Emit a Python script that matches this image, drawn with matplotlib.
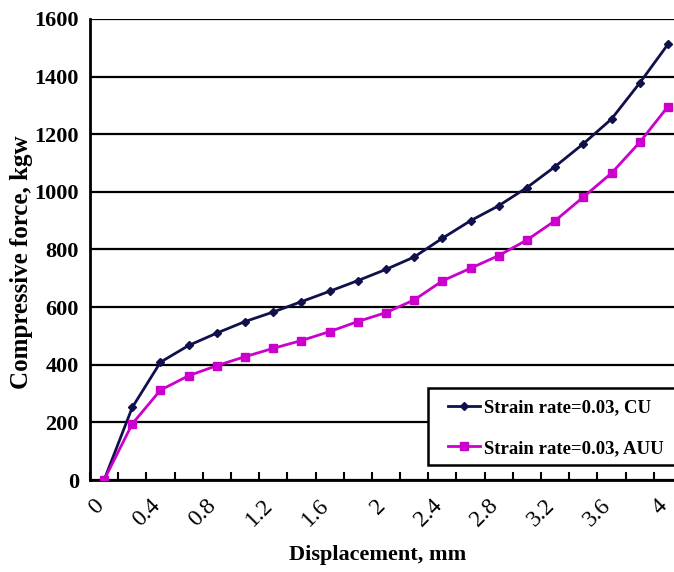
import numpy as np
import matplotlib
matplotlib.use("Agg")
import matplotlib.pyplot as plt
from matplotlib.patches import Rectangle
from matplotlib.ticker import FixedLocator

# displacement (mm) and compressive force (kgw)
disp = [0.0, 0.2, 0.4, 0.6, 0.8, 1.0, 1.2, 1.4, 1.6, 1.8, 2.0,
        2.2, 2.4, 2.6, 2.8, 3.0, 3.2, 3.4, 3.6, 3.8, 4.0]
force_cu = [0, 252, 409, 467, 510, 550, 583, 619, 655, 692, 731,
            774, 839, 900, 952, 1015, 1088, 1167, 1253, 1378, 1512]
force_auu = [0, 195, 312, 362, 397, 428, 457, 484, 515, 550, 581,
             625, 691, 735, 779, 833, 900, 982, 1065, 1172, 1296]
xtick_labels = ["0", "0.4", "0.8", "1.2", "1.6", "2", "2.4", "2.8", "3.2", "3.6", "4"]
yticks = [0, 200, 400, 600, 800, 1000, 1200, 1400, 1600]

plt.rcParams['font.family'] = ['Liberation Serif', 'DejaVu Serif']
plt.rcParams['font.weight'] = 'bold'
plt.rcParams['axes.labelweight'] = 'bold'

W, H = 674, 572
fig = plt.figure(figsize=(W/100, H/100), dpi=100)
# axes runs off the right edge like in the original
ax = fig.add_axes([90/W, 1 - 480/H, 592/W, 461/H])

ax.plot(disp, force_cu, color='#10104a', lw=2, marker='D', ms=4.5,
        label='Strain rate=0.03, CU', zorder=3)
ax.plot(disp, force_auu, color='#cc00cc', lw=2, marker='s', ms=6,
        label='Strain rate=0.03, AUU', zorder=3)

ax.set_xlim(-0.1, 4.1)
ax.set_ylim(0, 1600)
ax.set_yticks(yticks)
ax.yaxis.grid(True, color='black', lw=1.6)
ax.set_axisbelow(True)

# category labels, every other point, rotated 45
ax.set_xticks(disp[::2])
ax.set_xticklabels([])
for x, lab in zip(disp[::2], xtick_labels):
    ax.annotate(lab, xy=(x, 0), xycoords=('data', 'axes fraction'),
                xytext=(-8, -11), textcoords='offset points', fontsize=17,
                fontweight='normal', rotation=45, ha='right', va='top',
                rotation_mode='anchor', annotation_clip=False)
ax.xaxis.set_minor_locator(FixedLocator(np.arange(-0.1, 4.2, 0.2)))
ax.tick_params(axis='x', which='major', length=0)
ax.tick_params(axis='x', which='minor', length=6, width=1.5, direction='in')
ax.tick_params(axis='y', length=0, labelsize=16, pad=8)

for s in ['top', 'right']:
    ax.spines[s].set_visible(False)
for s in ['left', 'bottom']:
    ax.spines[s].set_linewidth(2)

ax.set_xlabel('Displacement, mm', fontsize=16)
ax.xaxis.set_label_coords((378 - 90)/592, -(545 - 480)/461)
ax.set_ylabel('Compressive force, kgw', fontsize=18)
ax.yaxis.set_label_coords((33 - 90)/592, (480 - 262)/461)

# legend box drawn separately, it runs past the right edge
ax.add_patch(Rectangle((428/W, 1 - 465/H), 300/W, 77/H,
                       transform=fig.transFigure, facecolor='white',
                       edgecolor='black', lw=1.8, zorder=5, clip_on=False))
leg = ax.legend(loc='center left', bbox_to_anchor=(448/W, 1 - 428/H),
                bbox_transform=fig.transFigure, fontsize=13.5, frameon=False,
                handlelength=1.7, borderpad=0, labelspacing=1.25,
                handletextpad=0.2, borderaxespad=0)
leg.set_zorder(6)

fig.savefig('out.png', dpi=100)
